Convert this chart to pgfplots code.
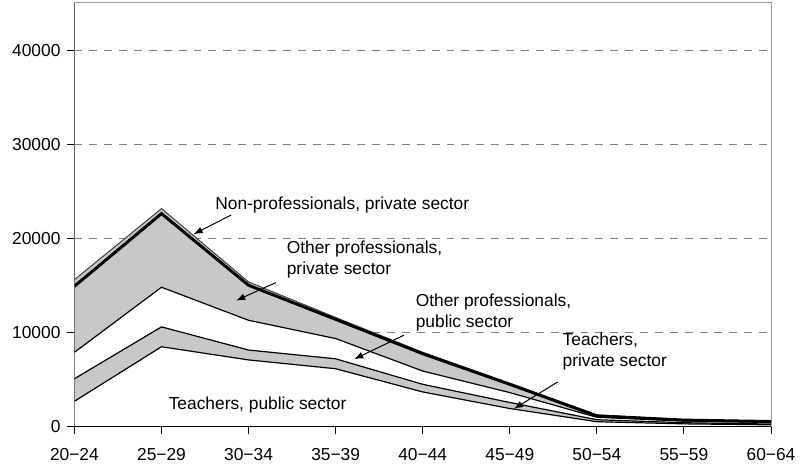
\documentclass[border=0pt]{standalone}
\usepackage{fontspec}
\setmainfont{Liberation Sans}
\usepackage{pgfplots}
\pgfplotsset{compat=1.18}
\usepackage{pgfplotstable}
\usetikzlibrary{arrows.meta}

\definecolor{band}{RGB}{200,200,200}
\definecolor{gridgray}{RGB}{128,128,128}

% cumulative employment by age group (stacked from the bottom)
\pgfplotstableread{
x tpub tpriv opub opriv npriv
0 2700 5090 7900 14910 15610
1 8490 10600 14810 22630 23160
2 7090 8140 11300 15020 15370
3 6155 7210 9360 11400 11600
4 3690 4500 5910 7750 7900
5 1930 2570 3620 4500 4620
6 530 740 1000 1150 1250
7 300 420 600 700 750
8 200 280 450 550 600
}\agedata

\begin{document}
\begin{tikzpicture}[font=\fontsize{8.75}{10.5}\selectfont]
\begin{axis}[
    name=main,
    scale only axis,
    width=351pt, height=213.5pt,
    xmin=0, xmax=8,
    ymin=0, ymax=45000,
    xtick={0,...,8},
    xticklabels={20−24,25−29,30−34,35−39,40−44,45−49,50−54,55−59,60−64},
    xticklabel style={yshift=-4pt},
    ytick={0,10000,20000,30000,40000},
    scaled y ticks=false,
    /pgf/number format/assume math mode=true,
    yticklabel style={/pgf/number format/set thousands separator={}},
    tick align=outside,
    major tick length=3.5pt,
    xtick pos=bottom, ytick pos=left,
    tick style={draw=black, line width=0.5pt},
    axis line style={draw=gray!80, line width=0.5pt},
    ymajorgrids,
    grid style={gridgray, dash pattern=on 4pt off 3.5pt, line width=0.5pt},
    no markers,
]
% filled bands
\addplot[fill=band, draw=none] table[x=x, y=npriv] {\agedata} \closedcycle;
\addplot[fill=white, draw=none] table[x=x, y=opub] {\agedata} \closedcycle;
\addplot[fill=band, draw=none] table[x=x, y=tpriv] {\agedata} \closedcycle;
\addplot[fill=white, draw=none] table[x=x, y=tpub] {\agedata} \closedcycle;
% boundary lines
\addplot[black!75, line width=0.5pt] table[x=x, y=npriv] {\agedata};
\addplot[black, line width=1.5pt] table[x=x, y=opriv] {\agedata};
\addplot[black, line width=0.6pt] table[x=x, y=opub] {\agedata};
\addplot[black, line width=0.6pt] table[x=x, y=tpriv] {\agedata};
\addplot[black, line width=0.6pt] table[x=x, y=tpub] {\agedata};

% axis lines over the fills
\draw[black!70, line width=0.6pt] (rel axis cs:0,0) -- (rel axis cs:0,1);
\draw[black, line width=0.6pt] (rel axis cs:0,0) -- (rel axis cs:1,0);

% labels
\node[anchor=west] at (axis cs:1.538,23536) {Non-professionals, private sector};
\draw[-{Latex[length=4.5pt,width=3.5pt]}, line width=0.5pt] (axis cs:1.80,22480) -- (axis cs:1.37,20450);

\node[anchor=west, align=left] at (axis cs:2.359,17730) {Other professionals,\\private sector};
\draw[-{Latex[length=4.5pt,width=3.5pt]}, line width=0.5pt] (axis cs:2.313,15300) -- (axis cs:1.858,13400);

\node[anchor=west, align=left] at (axis cs:3.840,12137) {Other professionals,\\public sector};
\draw[-{Latex[length=4.5pt,width=3.5pt]}, line width=0.5pt] (axis cs:3.783,9710) -- (axis cs:3.214,7177);

\node[anchor=west, align=left] at (axis cs:5.527,8020) {Teachers,\\private sector};
\draw[-{Latex[length=4.5pt,width=3.5pt]}, line width=0.5pt] (axis cs:5.550,4750) -- (axis cs:5.048,1900);

\node[anchor=west] at (axis cs:1.003,2320) {Teachers, public sector};
\end{axis}
\path (main.south west) ++(-37.5pt,-20pt) rectangle ([xshift=12.5pt,yshift=1.5pt]main.north east);
\end{tikzpicture}
\end{document}
